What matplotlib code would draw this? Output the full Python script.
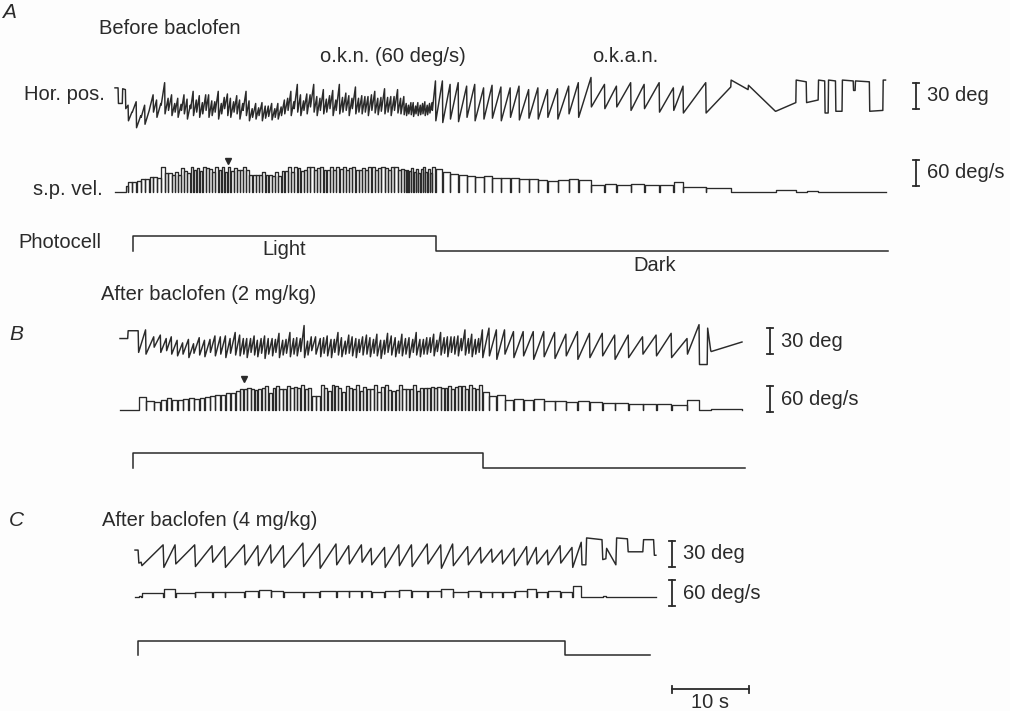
import matplotlib.pyplot as plt

plt.rcParams['font.family'] = ['Liberation Sans', 'DejaVu Sans']

INK = '#2a2a2a'
FS = 14.5
W, H = 1010, 711
PX_PER_S = 7.7          # chart speed, pixels per second
PX_PER_DEG = 26 / 30    # position channel gain
PX_PER_DEGS = 26 / 60   # velocity channel gain
VEL_MAX = 58            # velocity channel saturates here

# ---------------------------------------------------------------------------
# A  before baclofen: beats of the nystagmus (slow-phase duration s,
#    eye position at start of slow phase deg, slow-phase displacement deg)
a_t0 = -2.34
a_quick = 0.05
a_dur = [0.4, 0.5, 0.35, 0.3, 0.45,
         # light on
         0.5, 0.55, 0.45, 0.55, 0.45, 0.4, 0.5, 0.45, 0.4, 0.4,
         0.36, 0.34, 0.38, 0.33, 0.35, 0.37, 0.32, 0.36, 0.34, 0.35, 0.38, 0.33, 0.36,
         0.34, 0.4, 0.35, 0.33, 0.36, 0.34, 0.37, 0.35, 0.32, 0.36, 0.38, 0.34,
         0.36, 0.4, 0.34, 0.38, 0.37, 0.35, 0.39, 0.36, 0.34, 0.38, 0.37,
         0.38, 0.36, 0.34, 0.4, 0.36, 0.35, 0.37, 0.38, 0.42, 0.35, 0.36, 0.39,
         0.34, 0.37, 0.36, 0.35, 0.41, 0.36, 0.38, 0.34, 0.36, 0.4, 0.35, 0.37,
         0.36, 0.35, 0.4, 0.38, 0.34, 0.36, 0.42, 0.35, 0.36, 0.38, 0.4, 0.34, 0.37,
         0.26, 0.24, 0.27, 0.25, 0.26, 0.24, 0.27, 0.25, 0.24, 0.26, 0.25, 0.27,
         0.4,
         # light off
         0.85, 0.95, 1.0, 1.05, 1.0, 1.1, 1.05, 1.1, 1.15, 1.1, 1.2, 1.15, 1.2, 1.25,
         1.4, 1.2, 1.6, 1.7, 1.5, 1.8, 1.7, 1.9, 1.8, 1.2,
         2.9, 3.2, 2.2, 3.5, 2.6, 1.3, 1.5, 0.8, 0.4, 0.9, 0.8, 1.4, 0.2, 1.8, 1.7, 0.3]
a_start = [14, -4, 13, -10, -24,
           -14, -32, -20, -28, -10, -14, -20, -6, -16, -12,
           -18, -14, -20, -12, -16, -22, -10, -18, -14, -20, -16, -12, -20,
           -18, -14, -22, -16, -10, -18, -20, -14, -16, -22, -12, -18,
           -24, -20, -22, -18, -24, -21, -19, -23, -20, -22, -18,
           -16, -12, -18, -10, -14, -18, -12, -16, -8, -14, -18, -12,
           -16, -14, -10, -18, -12, -16, -14, -12, -18, -10, -16, -14,
           -16, -14, -18, -12, -15, -17, -13, -16, -14, -18, -12, -15, -16,
           -17, -18, -16, -17, -19, -16, -18, -17, -16, -18, -17, -15,
           -12,
           -24, -26, -22, -25, -20, -24, -22, -21, -24, -20, -23, -21, -22, -20,
           -22, -16, -20, -8, -10, -8, -12, -10, -14, -12,
           -15, -15, 23, 17, -13, 23, -3, 23, -15, 23, -13, 23, 11, 22, -13, 23]
a_amp = [0, 0, -1, 4, 10,
         12, 14, 14, 16, 16, 14, 16, 26, 18, 18,
         14, 16, 15, 18, 17, 16, 20, 18, 19, 17, 22, 18, 19,
         16, 24, 18, 19, 17, 20, 18, 19, 16, 18, 22, 17,
         14, 16, 13, 15, 17, 14, 15, 13, 16, 14, 18,
         18, 22, 16, 28, 20, 17, 19, 22, 26, 18, 20, 24,
         17, 19, 21, 18, 30, 19, 22, 17, 20, 25, 18, 19,
         20, 18, 24, 22, 17, 20, 26, 19, 18, 22, 24, 17, 20,
         13, 12, 13, 14, 12, 13, 12, 13, 14, 12, 13, 12,
         34,
         46, 44, 42, 41, 38, 38, 39, 36, 38, 36, 35, 35, 34, 33,
         38, 36, 46, 26, 26, 28, 30, 30, 28, 28,
         35, 30, -11, -30, 10, -2, 3, -1, 0, -1, 0, -1, 0, -1, 1, 0]
a_photo_t = [0, 0, 39.35, 39.35, 98.05]
a_photo = [0, 1, 1, 0, 0]
a_peak_t, a_peak_v = 12.3, 71

# ---------------------------------------------------------------------------
# B  after baclofen 2 mg/kg
b_t0 = -1.69
b_quick = 0.06
b_dur = [1.0, 1.3,
         0.9, 1.0, 0.8, 0.7, 0.6, 0.7,
         0.65, 0.7, 0.6, 0.68, 0.62, 0.66, 0.58, 0.64, 0.6, 0.55, 0.6, 0.52,
         0.42, 0.38, 0.44, 0.4, 0.36, 0.43, 0.39, 0.41, 0.45, 0.37, 0.4, 0.42, 0.38,
         0.44, 0.41, 0.36, 0.4, 0.43, 0.39, 0.42, 0.5, 0.55, 0.38, 0.4, 0.44, 0.37,
         0.41, 0.39, 0.43, 0.4, 0.38, 0.42, 0.36, 0.4, 0.44, 0.39, 0.41, 0.37, 0.43,
         0.4, 0.38, 0.42, 0.45, 0.39, 0.36, 0.41, 0.4, 0.43, 0.38, 0.42, 0.4, 0.37,
         0.38, 0.4, 0.36, 0.42, 0.39, 0.37, 0.41, 0.38, 0.4, 0.36, 0.43, 0.39, 0.37,
         0.4, 0.38, 0.42,
         # light off
         0.8, 0.9, 1.0, 1.1, 1.2, 1.25, 1.3, 1.35, 1.4, 1.45, 1.5, 1.6, 1.55, 1.7,
         1.8, 1.7, 1.9, 2.0, 1.5, 1.0, 0.4, 4.0]
b_start = [4, 13,
           -12, -14, -6, -12, -10, -14,
           -16, -14, -18, -13, -15, -17, -12, -16, -14, -18, -13, -15,
           -16, -14, -18, -12, -15, -17, -13, -19, -14, -16, -12, -18, -15,
           -13, -17, -14, -16, -11, -18, -15, -10, -14, -17, -13, -16, -18,
           -12, -15, -17, -14, -13, -16, -18, -12, -15, -14, -17, -13, -16,
           -19, -14, -12, -15, -17, -13, -16, -14, -18, -12, -15, -17, -14,
           -14, -12, -16, -11, -15, -13, -17, -12, -14, -16, -10, -15, -13,
           -17, -14, -12,
           -18, -16, -20, -14, -18, -16, -20, -17, -19, -16, -20, -18, -16, -20,
           -18, -14, -16, -18, -14, -26, 16, -11]
b_amp = [0, 0,
         26, 20, 14, 16, 16, 16,
         15, 17, 16, 18, 17, 20, 19, 22, 21, 22, 24, 23,
         20, 18, 22, 19, 17, 21, 20, 23, 18, 19, 22, 20, 18,
         24, 21, 19, 20, 30, 19, 21, 16, 18, 22, 20, 19, 21,
         23, 20, 18, 22, 19, 20, 21, 18, 23, 19, 20, 22, 18,
         21, 24, 19, 20, 18, 22, 20, 19, 21, 23, 18, 20, 19,
         19, 21, 18, 22, 20, 19, 23, 18, 21, 20, 24, 19, 22,
         20, 18, 26,
         34, 30, 34, 26, 30, 28, 32, 28, 28, 28, 30, 28, 24, 28,
         24, 22, 26, 22, 34, 0, -26, 11]
b_photo_t = [0, 0, 45.45, 45.45, 79.5]
b_photo = [0, 1, 1, 0, 0]
b_peak_t, b_peak_v = 14.4, 71

# ---------------------------------------------------------------------------
# C  after baclofen 4 mg/kg
c_t0 = -0.39
c_quick = 0.1
c_dur = [0.4, 0.3,
         2.75, 1.45, 2.45, 2.15, 1.55, 2.45, 1.65, 1.55, 1.55, 2.45, 2.05, 2.05,
         1.55, 1.55, 1.15, 1.65, 1.75, 1.55, 1.95, 1.65, 1.45, 1.85, 1.55, 1.35,
         1.25, 1.45, 1.55, 1.15, 1.35, 1.55, 1.45,
         # light off
         1.1, 0.5, 2.0, 0.4, 1.2, 1.4, 1.9, 1.3, 0.2]
c_start = [8, -7,
           -10, -12, -8, -11, -6, -12, -9, -10, -7, -12, -11, -13, -9, -8,
           -6, -9, -12, -10, -11, -8, -13, -10, -9, -7, -6, -8, -10, -9,
           -8, -9, -7,
           -12, -9, 22, -3, 10, 22, 6, 20, 2]
c_amp = [0, 1,
         24, 26, 22, 24, 18, 26, 22, 24, 20, 28, 26, 28, 22, 22,
         16, 20, 26, 24, 26, 22, 28, 22, 20, 16, 14, 18, 22, 20,
         16, 22, 18,
         29, 0, -2, 1, -19, -1, 0, 0, 0]
c_photo_t = [0, 0, 55.45, 55.45, 66.5]
c_photo = [0, 1, 1, 0, 0]


def beats(t0, dur, start, amp, quick):
    """Position vertices and slow-phase velocity steps for a beat list."""
    t = t0
    pt, py, vt, vy = [], [], [], []
    for d, s, a in zip(dur, start, amp):
        pt += [t, t + d]
        py += [s, s + a]
        v = min(max(a / d, 0.0), VEL_MAX)
        vt += [t, t, t + d, t + d]
        vy += [0, v, v, 0]
        t += d + quick
    return pt, py, vt, vy


fig = plt.figure(figsize=(W / 100, H / 100), dpi=100)
fig.patch.set_facecolor('#fdfdfd')


def strip(x_on, tlim, base_px, lo, hi, px_per_unit):
    """Axes whose time 0 sits at column x_on and value 0 at row base_px."""
    left = x_on + tlim[0] * PX_PER_S
    bottom = base_px - lo * px_per_unit
    ax = fig.add_axes([left / W, 1 - bottom / H,
                       (tlim[1] - tlim[0]) * PX_PER_S / W,
                       (hi - lo) * px_per_unit / H])
    ax.set_xlim(*tlim)
    ax.set_ylim(lo, hi)
    ax.axis('off')
    return ax


def cal_bar(ax, t, lo, hi, label, cap=0.4):
    ax.plot([t, t], [lo, hi], color=INK, lw=1.3)
    ax.plot([t - cap, t + cap], [lo, lo], color=INK, lw=1.3)
    ax.plot([t - cap, t + cap], [hi, hi], color=INK, lw=1.3)
    ax.text(t + 1.4, (lo + hi) / 2, label, va='center', ha='left',
            fontsize=FS, color=INK)


def panel(x_on, tlim, rows, t0, dur, start, amp, quick, photo_t, photo,
          bar_t, pos_bar, vel_bar, peak=None):
    pos_row, vel_row, photo_row, photo_px = rows
    pt, py, vt, vy = beats(t0, dur, start, amp, quick)

    ax_p = strip(x_on, tlim, pos_row, -45, 45, PX_PER_DEG)
    ax_p.plot(pt, py, color=INK, lw=1.05)
    cal_bar(ax_p, bar_t, pos_bar[0], pos_bar[1], '30 deg')

    ax_v = strip(x_on, tlim, vel_row, -25, 85, PX_PER_DEGS)
    ax_v.plot(vt, vy, color=INK, lw=0.95)
    cal_bar(ax_v, bar_t, vel_bar[0], vel_bar[1], '60 deg/s')
    if peak is not None:
        ax_v.plot(peak[0], peak[1], marker='v', ms=5, color=INK,
                  linestyle='none')

    ax_l = strip(x_on, tlim, photo_row, -0.5, 1.5, photo_px)
    ax_l.plot(photo_t, photo, color=INK, lw=1.1)
    return ax_p, ax_v, ax_l


# panel A
_, _, ax_la = panel(133, (-3, 112), (100, 192, 251, 15),
                    a_t0, a_dur, a_start, a_amp, a_quick, a_photo_t, a_photo,
                    101.7, (-10, 20), (14, 74), (a_peak_t, a_peak_v))
ax_la.text(a_photo_t[2] / 2, 0.12, 'Light', ha='center', va='center',
           fontsize=FS, color=INK)
ax_la.text((a_photo_t[2] + a_photo_t[-1]) / 2 - 1, -0.95, 'Dark',
           ha='center', va='center', fontsize=FS, color=INK)

# panel B
panel(133, (-3, 95), (342, 410, 468, 15),
      b_t0, b_dur, b_start, b_amp, b_quick, b_photo_t, b_photo,
      82.7, (-14, 16), (-5, 55), (b_peak_t, b_peak_v))

# panel C
panel(138, (-3, 85), (557, 597, 655, 14),
      c_t0, c_dur, c_start, c_amp, c_quick, c_photo_t, c_photo,
      69.35, (-11, 19), (-21, 39))

# time calibration
ax_s = strip(138, (-3, 85), 689, -1, 1, 5)
ax_s.plot([69.35, 79.35], [0, 0], color=INK, lw=1.3)
for tt in (69.35, 79.35):
    ax_s.plot([tt, tt], [-0.7, 0.7], color=INK, lw=1.3)
ax_s.text(74.35, -2.7, '10 s', ha='center', va='center', fontsize=FS,
          color=INK)


def label(x, y, s, **kw):
    kw.setdefault('fontsize', FS)
    fig.text(x / W, 1 - y / H, s, ha='left', va='center', color=INK, **kw)


label(2, 12, 'A', style='italic', fontsize=15)
label(99, 29, 'Before baclofen')
label(320, 57, 'o.k.n. (60 deg/s)')
label(592, 57, 'o.k.a.n.')
label(24, 95, 'Hor. pos.')
label(33, 190, 's.p. vel.')
label(18, 242, 'Photocell')
label(101, 295, 'After baclofen (2 mg/kg)')
label(9, 334, 'B', style='italic', fontsize=15)
label(9, 521, 'C', style='italic', fontsize=15)
label(102, 521, 'After baclofen (4 mg/kg)')

fig.savefig('out.png', dpi=100, facecolor=fig.get_facecolor())
